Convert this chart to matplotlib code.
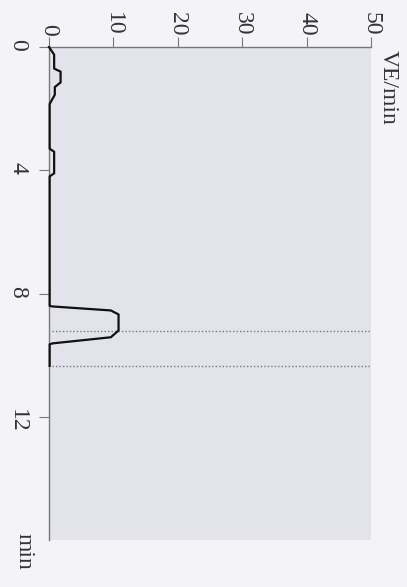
import matplotlib
matplotlib.use('Agg')
import matplotlib.pyplot as plt

# trace: time (min) vs VE
time_min = [0, 0.25, 0.7, 0.8, 1.15, 1.3, 1.55, 1.85, 3.3, 3.4, 4.1, 4.2,
            8.4, 8.42, 8.55, 8.68, 9.2, 9.42, 9.62, 9.65, 10.35]
ve_values = [0, 0.8, 0.8, 1.8, 1.8, 0.9, 0.9, 0.1, 0.1, 0.8, 0.8, 0.1,
             0.1, 0.5, 9.6, 10.8, 10.8, 9.6, 0.5, 0.1, 0.1]
marker_times = [9.21, 10.35]
ve_ticks = [0, 10, 20, 30, 40, 50]
time_ticks = [0, 4, 8, 12]

plt.rcParams['font.family'] = ['Liberation Serif', 'DejaVu Serif']

fig = plt.figure(figsize=(4.07, 5.87), dpi=100, facecolor='#f4f4f8')
ax = fig.add_axes([49 / 407, 1 - 540 / 587, (371 - 49) / 407, (540 - 47) / 587])
ax.set_facecolor('#e3e3eb')

ax.plot(ve_values, time_min, color='#111111', linewidth=1.6, clip_on=False, zorder=3)
ax.hlines(marker_times, 0.4, 50, colors='#777777', linestyles=(0, (1, 1.5)), linewidth=1.0)

ax.set_xlim(0, 50)
ax.set_ylim(16, 0)
ax.xaxis.set_ticks_position('top')
ax.set_xticks(ve_ticks)
ax.set_yticks(time_ticks)
ax.tick_params(axis='x', labelrotation=-90, length=7, pad=1, color='#777777',
               labelcolor='#333333', labelsize=17)
ax.tick_params(axis='y', labelrotation=-90, length=7, pad=8, color='#777777',
               labelcolor='#333333', labelsize=17)
for side in ['right', 'bottom']:
    ax.spines[side].set_visible(False)
for side in ['left', 'top']:
    ax.spines[side].set_color('#777777')
    ax.spines[side].set_linewidth(1.0)

fig.text(388 / 407, 1 - 50 / 587, 'VE/min', rotation=-90, ha='center', va='top',
         fontsize=17, color='#333333')
fig.text(24 / 407, 1 - 533 / 587, 'min', rotation=-90, ha='center', va='top',
         fontsize=17, color='#333333')

fig.savefig('out.png', dpi=100, facecolor=fig.get_facecolor())
